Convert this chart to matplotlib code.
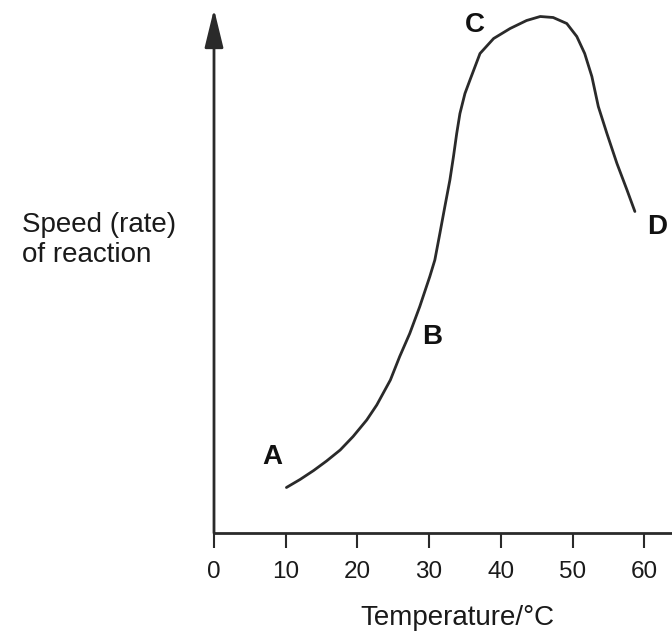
import matplotlib
matplotlib.use("Agg")
import matplotlib.pyplot as plt

plt.rcParams['font.family'] = ['Liberation Sans', 'DejaVu Sans']

# Data (temperature in °C, rate in arbitrary units)
temperature = [10.1, 12.0, 13.9, 15.7, 17.6, 19.4, 21.3, 22.7, 24.6, 25.9,
               27.3, 28.7, 30.1, 30.8, 31.5, 32.2, 32.9, 33.4, 33.85, 34.3,
               35.0, 35.7, 37.1, 39.0, 41.3, 43.6, 45.5, 47.3, 49.2, 50.6,
               51.7, 52.7, 53.6, 54.8, 56.2, 57.6, 58.7]
rate = [9.1, 10.7, 12.5, 14.4, 16.6, 19.3, 22.6, 25.6, 30.6, 35.3,
        39.9, 45.3, 51.3, 54.6, 59.9, 65.3, 70.6, 75.3, 79.9, 83.9,
        87.9, 90.6, 95.9, 98.9, 100.9, 102.5, 103.3, 103.1, 101.9, 99.3,
        95.9, 91.3, 85.3, 79.9, 73.9, 68.6, 64.3]
x_ticks = [0, 10, 20, 30, 40, 50, 60]
point_labels = ['A', 'B', 'C', 'D']
point_label_x = [8.2, 30.4, 36.4, 61.8]
point_label_y = [15.2, 39.2, 101.6, 61.2]

W, H = 672, 634
fig = plt.figure(figsize=(W / 100, H / 100), dpi=100)
x0, y0, y_top = 214, 533, 12
ax = fig.add_axes([x0 / W, (H - y0) / H, (W - x0) / W, (y0 - y_top) / H])
ax.set_xlim(0, (W - x0) / 7.17)
ax.set_ylim(0, (y0 - y_top) / 5)

col = '#2a2a2a'
ax.plot(temperature, rate, color=col, lw=2.0, solid_capstyle='round',
        solid_joinstyle='round', clip_on=False)

for s in ['top', 'right', 'left']:
    ax.spines[s].set_visible(False)
ax.spines['bottom'].set_linewidth(2.0)
ax.spines['bottom'].set_color(col)

# y-axis with arrow head
ax.annotate('', xy=(0, 1.0 + 3 / (y0 - y_top)), xycoords='axes fraction',
            xytext=(0, 0), textcoords='axes fraction',
            arrowprops=dict(arrowstyle='-|>,head_length=1.48,head_width=0.36',
                            mutation_scale=16, color=col, lw=2.0,
                            shrinkA=0, shrinkB=0))

ax.set_xticks(x_ticks)
ax.set_xticklabels([str(t) for t in x_ticks])
ax.tick_params(axis='x', direction='out', length=11, width=1.5, color=col,
               pad=9, labelsize=17.5, labelcolor='#1a1a1a')
ax.set_yticks([])

ax.set_xlabel('Temperature/°C', fontsize=20, color='#1a1a1a')
ax.xaxis.set_label_coords(((457 - x0) / (W - x0)), -(618 - y0) / (y0 - y_top))
ax.xaxis.label.set_va('center')

fig.text(22 / W, (H - 240) / H, 'Speed (rate)\nof reaction', fontsize=20,
         ha='left', va='center', color='#1a1a1a', linespacing=1.15)

for lab, lx, ly in zip(point_labels, point_label_x, point_label_y):
    ax.text(lx, ly, lab, fontsize=20, fontweight='bold', ha='center',
            va='center', color='#111111', clip_on=False)

fig.savefig('out.png', dpi=100)
